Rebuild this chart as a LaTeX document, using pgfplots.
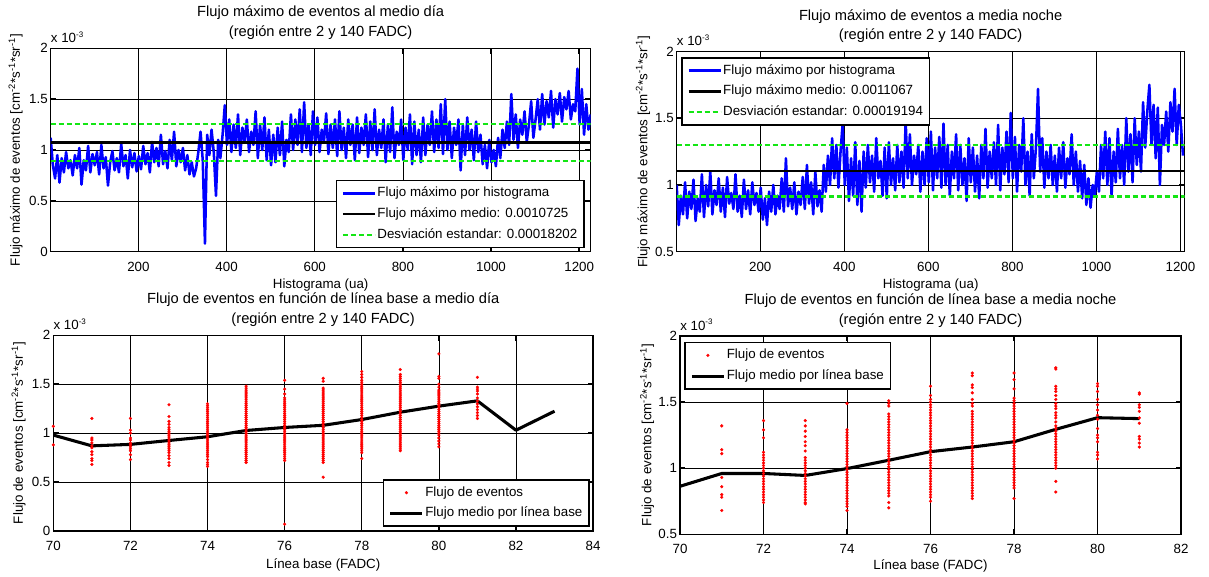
\documentclass[border=0pt]{standalone}
\usepackage{fontspec}
\setmainfont{Liberation Sans}
\usepackage{pgfplots}
\pgfplotsset{compat=1.18}
\definecolor{mgreen}{RGB}{20,230,20}
\newcommand{\fs}{\fontsize{10}{12}\selectfont}
\newcommand{\ylab}[1]{#1 [cm\textsuperscript{-2}*s\textsuperscript{-1}*sr\textsuperscript{-1}]}
\newcommand{\xten}{x 10\raisebox{0.8ex}{\fontsize{6}{6}\selectfont -3}}
\pgfplotsset{
 mat/.style={
  scale only axis, anchor=south west,
  axis line style={line width=1.1pt},
  grid=major,
  major grid style={black, line width=0.5pt},
  tick align=inside,
  xtick pos=both, ytick pos=both,
  major tick length=4pt,
  every tick/.style={black, line width=1.1pt},
  tick label style={font=\fs},
  /pgf/number format/assume math mode=true,
  /pgf/number format/1000 sep={},
  xticklabel style={yshift=-4pt},
  yticklabel style={xshift=1.3pt},
  title style={font=\fontsize{11}{14.5}\selectfont, align=center, at={(axis description cs:0.5,1)}, anchor=south, inner sep=0pt, yshift=0.5pt},
  label style={font=\fs},
  legend cell align=left,
  legend style={font=\fs, draw=black, line width=1.1pt, fill=white, inner xsep=4pt, inner ysep=3.5pt, row sep=3.6pt, nodes={inner sep=1pt, text height=7.5pt, text depth=2.5pt}},
  legend image code/.code={\draw[#1] (0pt,0pt) -- (24pt,0pt);},
  extra description/.code={\node[anchor=south west, inner sep=0pt, font=\fs] at ([yshift=3.9pt]axis description cs:0,1) {\xten};},
 },
 scat/.style={only marks, mark=*, mark size=1.1pt, mark options={line width=0.2pt, draw=red, fill=red, solid}, red,
  legend image code/.code={\draw[##1, mark repeat=2, mark phase=2] plot coordinates {(0pt,0pt)(12pt,0pt)(24pt,0pt)};}},
}
\begin{document}
\begin{tikzpicture}
% ---------------- top left ----------------
\begin{axis}[mat, at={(38.0pt,243.2pt)}, width=405pt, height=152.6pt,
 xmin=1, xmax=1226, ymin=0, ymax=2,
 xtick={200,400,600,800,1000,1200}, ytick={0,0.5,1,1.5,2},
 title={Flujo máximo de eventos al medio día\\(región entre 2 y 140 FADC)},
 xlabel={Histograma (ua)}, ylabel={\ylab{Flujo máximo de eventos}},
 xlabel style={at={(axis description cs:0.5,-0.162)}, anchor=center},
 ylabel style={at={(axis description cs:-0.0648,0.5)}, anchor=center},
 legend style={at={(axis description cs:0.989,0.0167)}, anchor=south east}]
\addplot[blue, line width=1.9pt, line join=round] table[x expr=\coordindex*5+1, y index=0, header=false, row sep=\\] {
1.12\\0.85\\0.72\\0.95\\0.68\\0.92\\0.78\\0.98\\0.82\\0.90\\
0.75\\0.95\\0.82\\1.02\\0.66\\0.90\\0.80\\1.04\\0.78\\0.96\\
0.85\\0.98\\0.76\\1.05\\0.82\\0.93\\0.65\\0.88\\0.99\\0.80\\
0.92\\0.78\\1.06\\0.84\\0.95\\0.72\\1.00\\0.83\\0.97\\0.79\\
0.94\\0.81\\1.04\\0.86\\0.97\\0.78\\1.08\\0.88\\1.02\\0.84\\
1.15\\0.86\\0.99\\0.82\\1.10\\0.90\\1.18\\0.84\\1.00\\0.88\\
1.02\\0.80\\0.95\\0.76\\0.88\\0.74\\0.82\\0.98\\1.18\\0.90\\
0.08\\1.15\\0.95\\1.20\\0.98\\0.55\\1.10\\0.92\\1.15\\1.44\\
1.05\\1.30\\0.98\\1.25\\1.02\\1.35\\0.95\\1.22\\1.08\\1.30\\
0.98\\1.18\\1.05\\1.38\\0.92\\1.25\\1.00\\1.32\\0.90\\1.20\\
0.85\\1.15\\0.88\\1.22\\0.95\\1.28\\0.84\\1.10\\0.98\\1.35\\
1.00\\1.30\\1.05\\1.40\\0.98\\1.47\\1.02\\1.25\\0.95\\1.38\\
1.05\\1.32\\0.98\\1.20\\1.08\\1.36\\0.96\\1.25\\1.02\\1.30\\
0.94\\1.38\\1.00\\1.22\\0.92\\1.30\\1.05\\1.25\\0.90\\1.32\\
0.97\\1.22\\1.05\\1.35\\0.93\\1.28\\1.00\\1.40\\0.95\\1.20\\
1.02\\1.30\\0.88\\1.25\\0.98\\1.42\\0.92\\1.18\\1.05\\1.30\\
0.90\\1.22\\1.00\\1.35\\0.86\\1.28\\0.95\\1.20\\0.88\\1.32\\
0.95\\1.25\\1.05\\1.38\\0.98\\1.30\\1.02\\1.45\\0.96\\1.50\\
1.00\\1.28\\0.92\\1.22\\1.05\\1.30\\0.80\\1.25\\0.95\\1.32\\
1.00\\1.20\\0.90\\1.28\\0.98\\1.15\\0.86\\1.05\\0.82\\1.10\\
0.88\\1.00\\0.84\\1.12\\0.92\\1.20\\1.02\\1.28\\1.05\\1.55\\
1.10\\1.35\\1.02\\1.30\\1.15\\1.38\\1.08\\1.25\\1.48\\1.12\\
1.30\\1.50\\1.20\\1.55\\1.25\\1.48\\1.32\\1.58\\1.22\\1.50\\
1.35\\1.56\\1.28\\1.52\\1.40\\1.58\\1.30\\1.45\\1.38\\1.80\\
1.25\\1.60\\1.15\\1.45\\1.20\\1.35\\
};
\addlegendentry{Flujo máximo por histograma}
\addplot[black, line width=1.8pt] coordinates {(1,1.0725) (1226,1.0725)};
\addlegendentry{Flujo máximo medio: 0.0010725}
\addplot[mgreen, line width=1.8pt, dash pattern=on 4pt off 2pt] coordinates {(1,1.25452) (1226,1.25452)};
\addlegendentry{Desviación estandar: 0.00018202}
\addplot[mgreen, line width=1.8pt, dash pattern=on 4pt off 2pt, forget plot] coordinates {(1,0.89048) (1226,0.89048)};
\end{axis}
% ---------------- top right ----------------
\begin{axis}[mat, at={(507.5pt,243.2pt)}, width=381pt, height=150.2pt,
 xmin=1, xmax=1210, ymin=0.5, ymax=2,
 xtick={200,400,600,800,1000,1200}, ytick={0.5,1,1.5,2},
 title={Flujo máximo de eventos a media noche\\(región entre 2 y 140 FADC)},
 xlabel={Histograma (ua)}, ylabel={\ylab{Flujo máximo de eventos}},
 xlabel style={at={(axis description cs:0.5,-0.167)}, anchor=center},
 ylabel style={at={(axis description cs:-0.0663,0.5)}, anchor=center},
 legend style={at={(axis description cs:0.009,0.971)}, anchor=north west}]
\addplot[blue, line width=1.9pt, line join=round] table[x expr=\coordindex*5+1, y index=0, header=false, row sep=\\] {
1.00\\0.70\\0.92\\0.78\\1.02\\0.75\\0.95\\0.82\\1.04\\0.73\\
0.90\\0.80\\1.08\\0.76\\1.00\\0.84\\1.10\\0.78\\0.96\\0.85\\
1.05\\0.80\\0.98\\0.76\\1.06\\0.86\\0.94\\0.82\\1.08\\0.80\\
0.92\\0.76\\1.04\\0.82\\0.96\\0.78\\1.02\\0.85\\0.94\\0.80\\
0.98\\0.74\\0.90\\0.70\\0.95\\0.80\\1.00\\0.78\\0.92\\0.82\\
1.05\\0.80\\1.20\\0.84\\0.98\\0.82\\1.02\\0.78\\0.95\\0.85\\
1.06\\0.82\\1.15\\0.86\\1.02\\0.78\\1.10\\0.84\\0.96\\0.80\\
1.15\\0.95\\1.22\\1.00\\1.35\\1.05\\1.30\\0.98\\1.25\\1.46\\
1.00\\1.28\\0.88\\1.20\\0.92\\1.32\\0.85\\1.18\\0.80\\1.25\\
0.98\\1.30\\1.02\\1.22\\0.95\\1.35\\1.05\\1.18\\0.92\\1.28\\
0.90\\1.32\\1.00\\1.20\\0.96\\1.30\\1.02\\1.25\\0.98\\1.48\\
1.05\\1.38\\1.00\\1.22\\1.08\\1.30\\0.95\\1.25\\1.00\\1.35\\
1.02\\1.40\\0.96\\1.28\\1.05\\1.36\\0.98\\1.46\\1.00\\1.30\\
0.92\\1.25\\1.05\\1.38\\0.96\\1.30\\1.00\\1.20\\0.88\\1.35\\
1.02\\1.28\\0.95\\1.22\\0.90\\1.30\\1.05\\1.42\\0.98\\1.25\\
1.05\\1.32\\1.00\\1.45\\0.96\\1.28\\1.08\\1.40\\1.02\\1.54\\
1.05\\1.36\\0.95\\1.30\\1.10\\1.50\\1.00\\1.25\\0.92\\1.38\\
1.05\\1.28\\1.72\\1.10\\1.35\\0.98\\1.25\\1.05\\1.30\\1.00\\
1.22\\0.95\\1.28\\1.05\\1.32\\0.98\\1.20\\1.08\\1.38\\1.00\\
1.25\\0.95\\1.18\\0.90\\1.15\\0.85\\1.05\\0.83\\1.00\\0.92\\
1.10\\0.95\\1.30\\1.05\\1.40\\1.00\\1.35\\0.92\\1.25\\1.02\\
1.42\\1.05\\1.30\\1.00\\1.50\\1.10\\1.38\\1.02\\1.50\\1.15\\
1.40\\1.10\\1.62\\1.28\\1.55\\1.75\\1.30\\1.60\\1.20\\1.58\\
1.00\\1.45\\1.30\\1.55\\1.25\\1.62\\1.40\\1.72\\1.30\\1.60\\
1.45\\1.22\\
};
\addlegendentry{Flujo máximo por histograma}
\addplot[black, line width=1.8pt] coordinates {(1,1.1067) (1210,1.1067)};
\addlegendentry{Flujo máximo medio: 0.0011067}
\addplot[mgreen, line width=1.8pt, dash pattern=on 4pt off 2pt] coordinates {(1,1.29864) (1210,1.29864)};
\addlegendentry{Desviación estandar: 0.00019194}
\addplot[mgreen, line width=1.8pt, dash pattern=on 4pt off 2pt, forget plot] coordinates {(1,0.91476) (1210,0.91476)};
\end{axis}
% ---------------- bottom left ----------------
\begin{axis}[mat, at={(40.0pt,33.75pt)}, width=404.8pt, height=146.8pt,
 xmin=70, xmax=84, ymin=0, ymax=2,
 xtick={70,72,74,76,78,80,82,84}, ytick={0,0.5,1,1.5,2},
 title={Flujo de eventos en función de línea base a medio día\\(región entre 2 y 140 FADC)},
 xlabel={Línea base (FADC)}, ylabel={\ylab{Flujo de eventos}},
 xlabel style={at={(axis description cs:0.5,-0.172)}, anchor=center},
 ylabel style={at={(axis description cs:-0.0643,0.5)}, anchor=center},
 legend style={at={(axis description cs:0.994,0.021)}, anchor=south east}]
\addplot[scat] coordinates {
(70,0.88)(70,1.07)
(71,1.15)(71,0.95)(71,0.93)(71,0.90)(71,0.87)(71,0.85)(71,0.81)(71,0.78)(71,0.74)(71,0.72)(71,0.68)
(72,1.15)(72,1.03)(72,1.00)(72,0.95)(72,0.93)(72,0.90)(72,0.88)(72,0.86)(72,0.84)(72,0.82)(72,0.78)(72,0.73)
(73,1.29)(73,1.17)(73,1.12)(73,1.09)(73,1.06)(73,1.04)(73,1.02)(73,1.00)(73,0.98)(73,0.96)(73,0.94)(73,0.92)(73,0.90)(73,0.88)(73,0.86)(73,0.84)(73,0.82)(73,0.80)(73,0.77)(73,0.74)(73,0.70)(73,0.67)
(74,1.30)(74,1.28)(74,1.26)(74,1.24)(74,1.22)(74,1.20)(74,1.18)(74,1.16)(74,1.14)(74,1.12)(74,1.10)(74,1.08)(74,1.06)(74,1.04)(74,1.02)(74,1.00)(74,0.98)(74,0.96)(74,0.94)(74,0.92)(74,0.90)(74,0.88)(74,0.86)(74,0.84)(74,0.82)(74,0.80)(74,0.78)(74,0.76)(74,0.73)(74,0.70)(74,0.68)(74,0.66)
(75,1.48)(75,1.46)(75,1.44)(75,1.42)(75,1.40)(75,1.38)(75,1.36)(75,1.34)(75,1.32)(75,1.30)(75,1.28)(75,1.26)(75,1.24)(75,1.22)(75,1.20)(75,1.18)(75,1.16)(75,1.14)(75,1.12)(75,1.10)(75,1.08)(75,1.06)(75,1.04)(75,1.02)(75,1.00)(75,0.98)(75,0.96)(75,0.94)(75,0.92)(75,0.90)(75,0.88)(75,0.86)(75,0.84)(75,0.82)(75,0.80)(75,0.78)(75,0.76)(75,0.74)(75,0.72)(75,0.70)
(76,1.54)(76,1.45)(76,1.40)(76,1.36)(76,1.34)(76,1.32)(76,1.30)(76,1.28)(76,1.26)(76,1.24)(76,1.22)(76,1.20)(76,1.18)(76,1.16)(76,1.14)(76,1.12)(76,1.10)(76,1.08)(76,1.06)(76,1.04)(76,1.02)(76,1.00)(76,0.98)(76,0.96)(76,0.94)(76,0.92)(76,0.90)(76,0.88)(76,0.86)(76,0.84)(76,0.82)(76,0.80)(76,0.78)(76,0.76)(76,0.74)(76,0.72)(76,0.07)
(77,1.56)(77,1.53)(77,1.46)(77,1.44)(77,1.42)(77,1.40)(77,1.38)(77,1.36)(77,1.34)(77,1.32)(77,1.30)(77,1.28)(77,1.26)(77,1.24)(77,1.22)(77,1.20)(77,1.18)(77,1.16)(77,1.14)(77,1.12)(77,1.10)(77,1.08)(77,1.06)(77,1.04)(77,1.02)(77,1.00)(77,0.98)(77,0.96)(77,0.94)(77,0.92)(77,0.90)(77,0.88)(77,0.86)(77,0.84)(77,0.82)(77,0.80)(77,0.78)(77,0.76)(77,0.74)(77,0.72)(77,0.70)(77,0.55)
(78,1.63)(78,1.60)(78,1.57)(78,1.54)(78,1.52)(78,1.50)(78,1.48)(78,1.46)(78,1.44)(78,1.42)(78,1.40)(78,1.38)(78,1.36)(78,1.34)(78,1.32)(78,1.30)(78,1.28)(78,1.26)(78,1.24)(78,1.22)(78,1.20)(78,1.18)(78,1.16)(78,1.14)(78,1.12)(78,1.10)(78,1.08)(78,1.06)(78,1.04)(78,1.02)(78,1.00)(78,0.98)(78,0.96)(78,0.94)(78,0.92)(78,0.90)(78,0.88)(78,0.86)(78,0.84)(78,0.82)(78,0.80)(78,0.74)
(79,1.65)(79,1.60)(79,1.58)(79,1.56)(79,1.54)(79,1.52)(79,1.50)(79,1.48)(79,1.46)(79,1.44)(79,1.42)(79,1.40)(79,1.38)(79,1.36)(79,1.34)(79,1.32)(79,1.30)(79,1.28)(79,1.26)(79,1.24)(79,1.22)(79,1.20)(79,1.18)(79,1.16)(79,1.14)(79,1.12)(79,1.10)(79,1.08)(79,1.06)(79,1.04)(79,1.02)(79,1.00)(79,0.98)(79,0.96)(79,0.94)(79,0.92)(79,0.90)(79,0.88)(79,0.86)(79,0.84)(79,0.82)
(80,1.81)(80,1.58)(80,1.56)(80,1.50)(80,1.47)(80,1.44)(80,1.42)(80,1.40)(80,1.38)(80,1.36)(80,1.34)(80,1.32)(80,1.30)(80,1.28)(80,1.26)(80,1.24)(80,1.22)(80,1.20)(80,1.18)(80,1.16)(80,1.14)(80,1.12)(80,1.10)(80,1.08)(80,1.06)(80,1.04)(80,1.02)(80,1.00)(80,0.98)(80,0.95)(80,0.92)(80,0.89)(80,0.86)
(81,1.57)(81,1.47)(81,1.45)(81,1.43)(81,1.40)(81,1.36)(81,1.33)(81,1.30)(81,1.27)(81,1.24)(81,1.21)(81,1.18)(81,1.15)
};
\addlegendentry{Flujo de eventos}
\addplot[black, line width=2.3pt, line join=round] coordinates {
(70,0.98)(71,0.87)(72,0.885)(73,0.925)(74,0.963)(75,1.027)(76,1.058)(77,1.08)(78,1.139)(79,1.214)(80,1.276)(81,1.33)(82,1.03)(83,1.224)};
\addlegendentry{Flujo medio por línea base}
\end{axis}
% ---------------- bottom right ----------------
\begin{axis}[mat, at={(510pt,31.3pt)}, width=375.8pt, height=148.7pt,
 xmin=70, xmax=82, ymin=0.5, ymax=2,
 xtick={70,72,74,76,78,80,82}, ytick={0.5,1,1.5,2},
 title={Flujo de eventos en función de línea base a media noche\\(región entre 2 y 140 FADC)},
 xlabel={Línea base (FADC)}, ylabel={\ylab{Flujo de eventos}},
 xlabel style={at={(axis description cs:0.5,-0.162)}, anchor=center},
 ylabel style={at={(axis description cs:-0.0655,0.5)}, anchor=center},
 legend style={at={(axis description cs:0.0086,0.970)}, anchor=north west}]
\addplot[scat] coordinates {
(71,1.32)(71,1.14)(71,1.11)(71,0.93)(71,0.86)(71,0.80)(71,0.78)(71,0.68)
(72,1.36)(72,1.29)(72,1.23)(72,1.12)(72,1.10)(72,1.08)(72,1.06)(72,1.04)(72,1.02)(72,1.00)(72,0.98)(72,0.96)(72,0.94)(72,0.92)(72,0.90)(72,0.88)(72,0.86)(72,0.84)(72,0.82)(72,0.80)(72,0.78)(72,0.76)(72,0.74)
(73,1.36)(73,1.32)(73,1.28)(73,1.24)(73,1.20)(73,1.17)(73,1.13)(73,1.08)(73,1.06)(73,1.04)(73,1.02)(73,1.00)(73,0.98)(73,0.96)(73,0.94)(73,0.92)(73,0.90)(73,0.88)(73,0.86)(73,0.84)(73,0.82)(73,0.80)(73,0.78)(73,0.76)(73,0.74)(73,0.73)
(74,1.49)(74,1.29)(74,1.27)(74,1.25)(74,1.23)(74,1.21)(74,1.19)(74,1.17)(74,1.15)(74,1.13)(74,1.11)(74,1.09)(74,1.07)(74,1.05)(74,1.03)(74,1.01)(74,0.99)(74,0.97)(74,0.95)(74,0.93)(74,0.91)(74,0.89)(74,0.87)(74,0.85)(74,0.83)(74,0.81)(74,0.79)(74,0.77)(74,0.75)(74,0.73)(74,0.71)(74,0.68)
(75,1.51)(75,1.49)(75,1.47)(75,1.41)(75,1.39)(75,1.37)(75,1.35)(75,1.33)(75,1.31)(75,1.29)(75,1.27)(75,1.25)(75,1.23)(75,1.21)(75,1.19)(75,1.17)(75,1.15)(75,1.13)(75,1.11)(75,1.09)(75,1.07)(75,1.05)(75,1.03)(75,1.01)(75,0.99)(75,0.97)(75,0.95)(75,0.93)(75,0.91)(75,0.89)(75,0.87)(75,0.85)(75,0.83)(75,0.81)(75,0.79)(75,0.74)(75,0.70)
(76,1.62)(76,1.55)(76,1.52)(76,1.50)(76,1.48)(76,1.46)(76,1.44)(76,1.42)(76,1.40)(76,1.38)(76,1.36)(76,1.34)(76,1.32)(76,1.30)(76,1.28)(76,1.26)(76,1.24)(76,1.22)(76,1.20)(76,1.18)(76,1.16)(76,1.14)(76,1.12)(76,1.10)(76,1.08)(76,1.06)(76,1.04)(76,1.02)(76,1.00)(76,0.98)(76,0.96)(76,0.94)(76,0.92)(76,0.90)(76,0.88)(76,0.86)(76,0.84)(76,0.82)(76,0.80)(76,0.78)(76,0.75)
(77,1.72)(77,1.70)(77,1.63)(77,1.61)(77,1.57)(77,1.52)(77,1.49)(77,1.47)(77,1.43)(77,1.41)(77,1.39)(77,1.37)(77,1.35)(77,1.33)(77,1.31)(77,1.29)(77,1.27)(77,1.25)(77,1.23)(77,1.21)(77,1.19)(77,1.17)(77,1.15)(77,1.13)(77,1.11)(77,1.09)(77,1.07)(77,1.05)(77,1.03)(77,1.01)(77,0.99)(77,0.97)(77,0.95)(77,0.93)(77,0.91)(77,0.89)(77,0.87)(77,0.85)(77,0.83)(77,0.81)(77,0.79)(77,0.77)
(78,1.72)(78,1.67)(78,1.60)(78,1.53)(78,1.51)(78,1.49)(78,1.47)(78,1.45)(78,1.43)(78,1.41)(78,1.39)(78,1.37)(78,1.35)(78,1.33)(78,1.31)(78,1.29)(78,1.27)(78,1.25)(78,1.23)(78,1.21)(78,1.19)(78,1.17)(78,1.15)(78,1.13)(78,1.11)(78,1.09)(78,1.07)(78,1.05)(78,1.03)(78,1.01)(78,0.99)(78,0.97)(78,0.95)(78,0.93)(78,0.91)(78,0.89)(78,0.87)(78,0.85)(78,0.77)
(79,1.76)(79,1.75)(79,1.62)(79,1.60)(79,1.58)(79,1.55)(79,1.52)(79,1.49)(79,1.47)(79,1.45)(79,1.42)(79,1.40)(79,1.38)(79,1.35)(79,1.32)(79,1.30)(79,1.28)(79,1.26)(79,1.24)(79,1.22)(79,1.20)(79,1.18)(79,1.16)(79,1.14)(79,1.12)(79,1.10)(79,1.08)(79,1.06)(79,1.04)(79,1.02)(79,1.00)(79,0.90)(79,0.82)
(80,1.64)(80,1.62)(80,1.58)(80,1.52)(80,1.48)(80,1.44)(80,1.40)(80,1.37)(80,1.30)(80,1.25)(80,1.23)(80,1.20)(80,1.12)(80,1.10)(80,1.07)
(81,1.57)(81,1.56)(81,1.48)(81,1.46)(81,1.43)(81,1.38)(81,1.34)(81,1.24)(81,1.22)(81,1.19)(81,1.16)
};
\addlegendentry{Flujo de eventos}
\addplot[black, line width=2.3pt, line join=round] coordinates {
(70,0.863)(71,0.96)(72,0.96)(73,0.945)(74,0.997)(75,1.06)(76,1.125)(77,1.16)(78,1.2)(79,1.294)(80,1.382)(81,1.375)};
\addlegendentry{Flujo medio por línea base}
\end{axis}
\pgfresetboundingbox
\path (0pt,0pt) rectangle (906.75pt,432pt);
\end{tikzpicture}
\end{document}
